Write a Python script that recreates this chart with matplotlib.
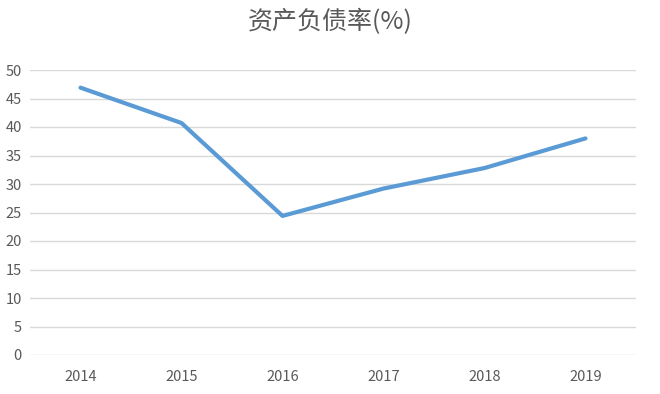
"""Debt-to-asset ratio line chart, 2014-2019."""

import matplotlib
matplotlib.use("Agg")
from matplotlib import pyplot as plt

# data
years = ["2014", "2015", "2016", "2017", "2018", "2019"]
debt_ratio = [46.9, 40.7, 24.4, 29.2, 32.8, 38.0]
y_ticks = [0, 5, 10, 15, 20, 25, 30, 35, 40, 45, 50]

plt.rcParams['font.family'] = ['Noto Sans CJK SC', 'DejaVu Sans']

grey_text = '#595959'
grid_grey = '#d9d9d9'
line_blue = '#5b9bd5'

fig = plt.figure(figsize=(6.6, 3.94), dpi=100)
ax = fig.add_axes([30 / 660, 39 / 394, 606 / 660, 285 / 394])

ax.plot(range(len(years)), debt_ratio, color=line_blue, linewidth=3.0,
        solid_capstyle='round', solid_joinstyle='round', zorder=3)

ax.set_xlim(-0.5, len(years) - 0.5)
ax.set_ylim(0, 50)
ax.set_yticks(y_ticks)
ax.set_xticks(range(len(years)))
ax.set_xticklabels(years)

ax.grid(axis='y', color=grid_grey, linewidth=1.0)
ax.set_axisbelow(True)
for spine in ax.spines.values():
    spine.set_visible(False)
ax.tick_params(axis='both', length=0, labelsize=10.5, colors=grey_text)
ax.tick_params(axis='y', pad=6)
ax.tick_params(axis='x', pad=11)

fig.text(0.5, 1 - 22 / 394, '资产负债率(%)', ha='center', va='center',
         fontsize=18, fontweight='light', color=grey_text)

fig.savefig('out.png', dpi=100)
